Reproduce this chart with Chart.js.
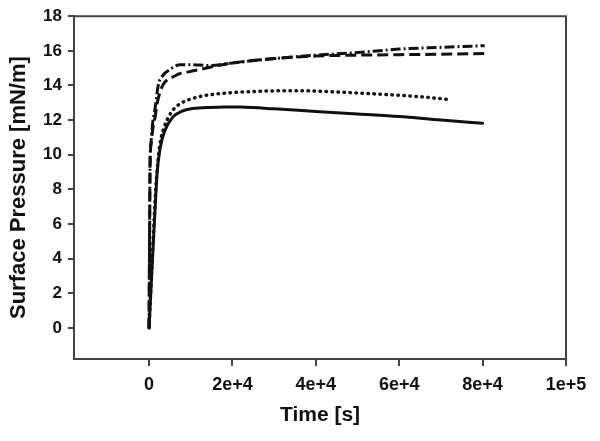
<!DOCTYPE html>
<html>
<head>
<meta charset="utf-8">
<script src="https://cdn.jsdelivr.net/npm/chart.js@4/dist/chart.umd.min.js"></script>
<style>
  html, body { margin: 0; padding: 0; background: #fff; }
  #wrap { width: 600px; height: 441px; }
</style>
</head>
<body>
<div id="wrap"><canvas id="chart" width="600" height="441"></canvas></div>
<script>
'use strict';
// data (time in s, surface pressure in mN/m)
var solidTime = [0, 500, 1000, 1500, 1900, 2600, 3800, 5800, 7800, 9800, 14000, 18000, 22000, 30000, 40000, 50000, 60000, 70000, 80000];
var solidValue = [0, 2.4, 4.8, 7.1, 8.85, 10.3, 11.4, 12.2, 12.5, 12.64, 12.72, 12.76, 12.75, 12.65, 12.5, 12.35, 12.2, 12.0, 11.82];

var dottedTime = [0, 500, 1000, 1500, 2000, 2600, 3500, 4500, 5800, 7500, 9800, 13000, 18000, 25000, 35000, 45000, 55000, 65000, 71500];
var dottedValue = [0, 2.6, 5.2, 7.6, 9.3, 10.6, 11.5, 12.1, 12.6, 12.95, 13.2, 13.4, 13.55, 13.65, 13.7, 13.62, 13.5, 13.35, 13.2];

var dashedTime = [0, 100, 240, 500, 960, 1400, 1900, 2600, 3500, 4500, 5800, 7500, 9800, 14600, 20000, 30000, 40000, 50000, 60000, 70000, 80500];
var dashedValue = [0, 4.0, 9.4, 10.6, 11.6, 12.1, 12.9, 13.6, 14.1, 14.35, 14.5, 14.7, 14.8, 15.05, 15.3, 15.55, 15.7, 15.75, 15.78, 15.8, 15.85];

var dashDotTime = [0, 100, 240, 500, 900, 1400, 2200, 3400, 4300, 5800, 7400, 9800, 12000, 14600, 20000, 30000, 40000, 50000, 60000, 70000, 80500];
var dashDotValue = [0, 4.2, 9.5, 10.8, 11.9, 12.6, 14.0, 14.6, 14.8, 15.05, 15.2, 15.2, 15.18, 15.15, 15.3, 15.55, 15.75, 15.9, 16.1, 16.2, 16.3];

var xTicks = [0, 20000, 40000, 60000, 80000, 100000];
var xTickLabels = ['0', '2e+4', '4e+4', '6e+4', '8e+4', '1e+5'];
var yTicks = [0, 2, 4, 6, 8, 10, 12, 14, 16, 18];

var lineColor = '#111';
var axisColor = '#444';
var fontName = '"Liberation Sans", Arial, sans-serif';

// zip time and value arrays into points
function toPoints(times, values) {
  var pts = [];
  for (var i = 0; i < times.length; i++) {
    pts.push({x: times[i], y: values[i]});
  }
  return pts;
}

function makeSet(times, values, dash, cap, width) {
  return {
    data: toPoints(times, values),
    showLine: true,
    borderColor: lineColor,
    borderWidth: width,
    borderDash: dash,
    borderCapStyle: cap,
    pointRadius: 0,
    fill: false,
    cubicInterpolationMode: 'monotone'
  };
}

// top and right border of the plot frame
var framePlugin = {
  id: 'frame',
  afterDraw: function(chart) {
    var a = chart.chartArea;
    var ctx = chart.ctx;
    ctx.save();
    ctx.strokeStyle = axisColor;
    ctx.lineWidth = 2;
    ctx.beginPath();
    ctx.moveTo(a.left, a.top);
    ctx.lineTo(a.right, a.top);
    ctx.lineTo(a.right, a.bottom);
    ctx.stroke();
    ctx.restore();
  }
};

var ctx = document.getElementById('chart').getContext('2d');
var chart = new Chart(ctx, {
  type: 'scatter',
  data: {
    datasets: [
      makeSet(solidTime, solidValue, [], 'round', 3),
      makeSet(dottedTime, dottedValue, [0.5, 5.5], 'round', 3.5),
      makeSet(dashedTime, dashedValue, [11, 5], 'butt', 3),
      makeSet(dashDotTime, dashDotValue, [10, 3, 2, 3], 'butt', 3)
    ]
  },
  options: {
    responsive: false,
    animation: false,
    layout: { padding: { top: 14, right: 34, left: 0, bottom: 0 } },
    plugins: { legend: { display: false }, tooltip: { enabled: false } },
    scales: {
      x: {
        type: 'linear',
        min: -18000,
        max: 100000,
        afterBuildTicks: function(axis) {
          axis.ticks = xTicks.map(function(v) { return {value: v}; });
        },
        afterFit: function(axis) { axis.height = 82; },
        ticks: {
          color: '#111',
          padding: 8,
          maxRotation: 0,
          font: { family: fontName, size: 18, weight: 'bold' },
          callback: function(value) {
            var i = xTicks.indexOf(value);
            return i >= 0 ? xTickLabels[i] : '';
          }
        },
        grid: { drawOnChartArea: false, color: axisColor, lineWidth: 2, tickLength: 7 },
        border: { color: axisColor, width: 2 },
        title: {
          display: true,
          text: 'Time [s]',
          color: '#111',
          padding: { top: 0, bottom: 13 },
          font: { family: fontName, size: 21, weight: 'bold' }
        }
      },
      y: {
        type: 'linear',
        min: -1.8,
        max: 18,
        afterBuildTicks: function(axis) {
          axis.ticks = yTicks.map(function(v) { return {value: v}; });
        },
        afterFit: function(axis) { axis.width = 74; },
        ticks: {
          color: '#111',
          padding: 6,
          font: { family: fontName, size: 17, weight: 'bold' }
        },
        grid: { drawOnChartArea: false, color: axisColor, lineWidth: 2, tickLength: 6 },
        border: { color: axisColor, width: 2 },
        title: {
          display: true,
          text: 'Surface Pressure [mN/m]',
          color: '#111',
          padding: { top: 6, bottom: 0 },
          font: { family: fontName, size: 22, weight: 'bold' }
        }
      }
    }
  },
  plugins: [framePlugin]
});
</script>
</body>
</html>
